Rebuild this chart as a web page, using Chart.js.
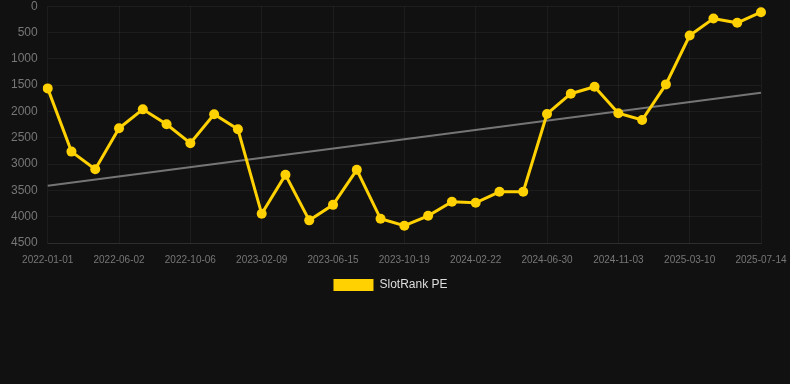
<!DOCTYPE html>
<html>
<head>
<meta charset="utf-8">
<script src="https://cdn.jsdelivr.net/npm/chart.js@4.4.1/dist/chart.umd.min.js"></script>
<style>
  html, body { margin: 0; padding: 0; background: #111111; overflow: hidden; }
  #wrap { position: relative; width: 790px; height: 312px; margin-top: -11px; }
</style>
</head>
<body>
<div id="wrap"><canvas id="c"></canvas></div>
<script>
const categories = [
  '2022-01-01','2022-02-20','2022-04-12','2022-06-02','2022-07-14','2022-08-25',
  '2022-10-06','2022-11-17','2022-12-29','2023-02-09','2023-03-23','2023-05-04',
  '2023-06-15','2023-07-27','2023-09-07','2023-10-19','2023-11-30','2024-01-11',
  '2024-02-22','2024-04-04','2024-05-18','2024-06-30','2024-08-11','2024-09-22',
  '2024-11-03','2024-12-15','2025-01-27','2025-03-10','2025-04-21','2025-06-02',
  '2025-07-14'
];
const slotRankPE = [
  1562, 2763, 3098, 2320, 1960, 2245, 2605, 2055, 2340, 3945, 3205, 4070,
  3775, 3110, 4040, 4172, 3983, 3717, 3736, 3527, 3527, 2048, 1663, 1530,
  2035, 2162, 1486, 557, 234, 316, 114
];
const trendEnds = [3414, 1644];
const trendValues = categories.map((_, i) =>
  i === 0 ? trendEnds[0] : (i === categories.length - 1 ? trendEnds[1] : null));
const yTicks = { min: 0, max: 4500, step: 500 };

new Chart(document.getElementById('c'), {
  type: 'line',
  data: {
    labels: categories,
    datasets: [
      {
        label: 'SlotRank PE',
        data: slotRankPE,
        borderColor: '#FFD100',
        backgroundColor: '#FFD100',
        borderWidth: 3,
        pointRadius: 5,
        pointHoverRadius: 5,
        pointBackgroundColor: '#FFD100',
        pointBorderWidth: 0,
        tension: 0
      },
      {
        label: 'Trend',
        data: trendValues,
        borderColor: 'rgba(160,160,160,0.7)',
        borderWidth: 2,
        pointRadius: 0,
        spanGaps: true,
        tension: 0
      }
    ]
  },
  options: {
    responsive: true,
    maintainAspectRatio: false,
    animation: false,
    layout: { padding: { left: 1, right: 10, top: 0, bottom: 0 } },
    plugins: {
      legend: {
        position: 'bottom',
        labels: {
          color: '#dddddd',
          boxWidth: 40,
          boxHeight: 12,
          padding: 2,
          font: { size: 12, family: 'Arial, "Liberation Sans", sans-serif' },
          filter: (item) => item.datasetIndex === 0,
          generateLabels: (chart) =>
            Chart.defaults.plugins.legend.labels.generateLabels(chart)
              .map((it) => Object.assign(it, { lineWidth: 0 }))
        }
      },
      tooltip: { enabled: false }
    },
    scales: {
      x: {
        afterFit: (s) => { s.paddingRight = 29; },
        grid: { color: 'rgba(255,255,255,0.05)', drawTicks: false },
        border: { color: 'rgba(255,255,255,0.08)' },
        ticks: {
          color: '#777777',
          font: { size: 10, family: 'Arial, "Liberation Sans", sans-serif' },
          maxRotation: 0,
          autoSkip: false,
          padding: 11,
          callback: function (v, i) { return i % 3 === 0 ? this.getLabelForValue(v) : null; }
        }
      },
      y: {
        reverse: true,
        min: yTicks.min,
        max: yTicks.max,
        grid: { color: 'rgba(255,255,255,0.05)', drawTicks: false },
        border: { display: false },
        ticks: {
          stepSize: yTicks.step,
          color: '#777777',
          padding: 10,
          font: { size: 12, family: 'Arial, "Liberation Sans", sans-serif' },
          callback: (v) => String(v)
        }
      }
    }
  }
});
</script>
</body>
</html>
